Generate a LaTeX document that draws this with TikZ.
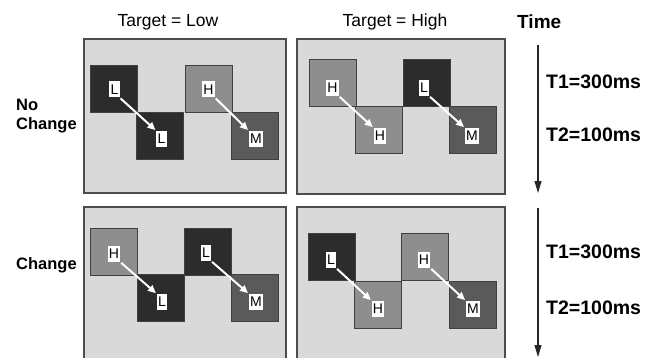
\documentclass[tikz,border=0pt]{standalone}
\usepackage{fontspec}
\setmainfont{Liberation Sans}
\usetikzlibrary{arrows.meta}
\definecolor{panelbg}{HTML}{D9D9D9}
\definecolor{sqdark}{HTML}{2C2C2C}
\definecolor{sqmid}{HTML}{8E8E8E}
\definecolor{sqm}{HTML}{5A5A5A}
\tikzset{
  panel/.style={draw=black!70, line width=1.1pt, fill=panelbg},
  sq/.style={draw=black!75, line width=0.6pt, minimum width=47pt, minimum height=47pt, inner sep=0pt},
  sqL/.style={sq, fill=sqdark},
  sqH/.style={sq, fill=sqmid},
  sqM/.style={sq, fill=sqm},
  lbl/.style={fill=white, inner sep=1.2pt, minimum height=16pt, text width=, font=\fontsize{14}{14}\selectfont, text=black},
  warrow/.style={draw=white, line width=2pt, -{Triangle[width=7pt,length=8pt]}, shorten <=1pt, shorten >=1pt},
  tarrow/.style={draw=black!85, line width=1.1pt, -{Triangle[width=7pt,length=12pt]}},
  title/.style={font=\fontsize{17.5}{18}\selectfont},
  btitle/.style={font=\fontsize{19}{20}\selectfont\bfseries},
  tlabel/.style={font=\fontsize{19.5}{20}\selectfont\bfseries, anchor=west, inner sep=0pt},
  rlabel/.style={font=\fontsize{16.5}{19}\selectfont\bfseries, anchor=west, align=left, inner sep=0pt}
}
\begin{document}
\begin{tikzpicture}[x=1pt,y=-1pt]
\useasboundingbox (0,0) rectangle (660,358);
\fill[white] (0,0) rectangle (660,358);
% titles
\node[title] (tlow) at (168,22) {Target = Low};
\node[title] (thigh) at (395,22) {Target = High};
\node[btitle, anchor=west, inner sep=0pt] (time) at (517,22) {Time};
% row labels
\node[rlabel] (nochange) at (16,116) {No\\Change};
\node[rlabel] (change) at (16,265) {Change};
% panels
\node[panel, minimum width=202pt, minimum height=154pt, inner sep=0pt] (p1) at (185,116) {};
\node[panel, minimum width=208pt, minimum height=155pt, inner sep=0pt] (p2) at (401,116.5) {};
\begin{scope}
\clip (0,0) rectangle (660,358);
\node[panel, minimum width=202pt, minimum height=160pt, inner sep=0pt] (p3) at (185,287) {};
\node[panel, minimum width=208pt, minimum height=160pt, inner sep=0pt] (p4) at (401,287) {};
\end{scope}
% panel 1: Target = Low, No Change
\node[sqL] (a1) at (114,88.5) {};
\node[sqL] (a2) at (160,136) {};
\node[sqH] (a3) at (208.5,88.5) {};
\node[sqM] (a4) at (255,136) {};
\node[lbl] (la1) at (114.5,89.5) {L};
\node[lbl] (la2) at (161.5,139) {L};
\node[lbl] (la3) at (208.5,89.5) {H};
\node[lbl] (la4) at (256,139) {M};
\draw[warrow] (la1.south east) -- (la2.north west);
\draw[warrow] (la3.south east) -- (la4.north west);
% panel 2: Target = High, No Change
\node[sqH] (b1) at (332.5,83) {};
\node[sqH] (b2) at (379,129.5) {};
\node[sqL] (b3) at (427,83) {};
\node[sqM] (b4) at (473,129.5) {};
\node[lbl] (lb1) at (332.5,88) {H};
\node[lbl] (lb2) at (380,136) {H};
\node[lbl] (lb3) at (424,88) {L};
\node[lbl] (lb4) at (472,136) {M};
\draw[warrow] (lb1.south east) -- (lb2.north west);
\draw[warrow] (lb3.south east) -- (lb4.north west);
% panel 3: Target = Low, Change
\node[sqH] (c1) at (114,251.5) {};
\node[sqL] (c2) at (161,298) {};
\node[sqL] (c3) at (208,251.5) {};
\node[sqM] (c4) at (255,298) {};
\node[lbl] (lc1) at (114,254) {H};
\node[lbl] (lc2) at (162,302) {L};
\node[lbl] (lc3) at (206,253) {L};
\node[lbl] (lc4) at (256,302) {M};
\draw[warrow] (lc1.south east) -- (lc2.north west);
\draw[warrow] (lc3.south east) -- (lc4.north west);
% panel 4: Target = High, Change
\node[sqL] (d1) at (331.5,257) {};
\node[sqH] (d2) at (377.5,304.5) {};
\node[sqH] (d3) at (425,257) {};
\node[sqM] (d4) at (472.5,304.5) {};
\node[lbl] (ld1) at (331,260) {L};
\node[lbl] (ld2) at (378,309) {H};
\node[lbl] (ld3) at (424,260) {H};
\node[lbl] (ld4) at (473,309) {M};
\draw[warrow] (ld1.south east) -- (ld2.north west);
\draw[warrow] (ld3.south east) -- (ld4.north west);
% time arrows
\coordinate (ta1) at (538,45);
\coordinate (tb1) at (538,193);
\coordinate (ta2) at (538,208);
\coordinate (tb2) at (538,357);
\draw[tarrow] (ta1) -- (tb1);
\draw[tarrow] (ta2) -- (tb2);
\node[tlabel] (t11) at (546,82) {T1=300ms};
\node[tlabel] (t21) at (546,135) {T2=100ms};
\node[tlabel] (t12) at (546,252) {T1=300ms};
\node[tlabel] (t22) at (546,308) {T2=100ms};
\end{tikzpicture}
\end{document}
